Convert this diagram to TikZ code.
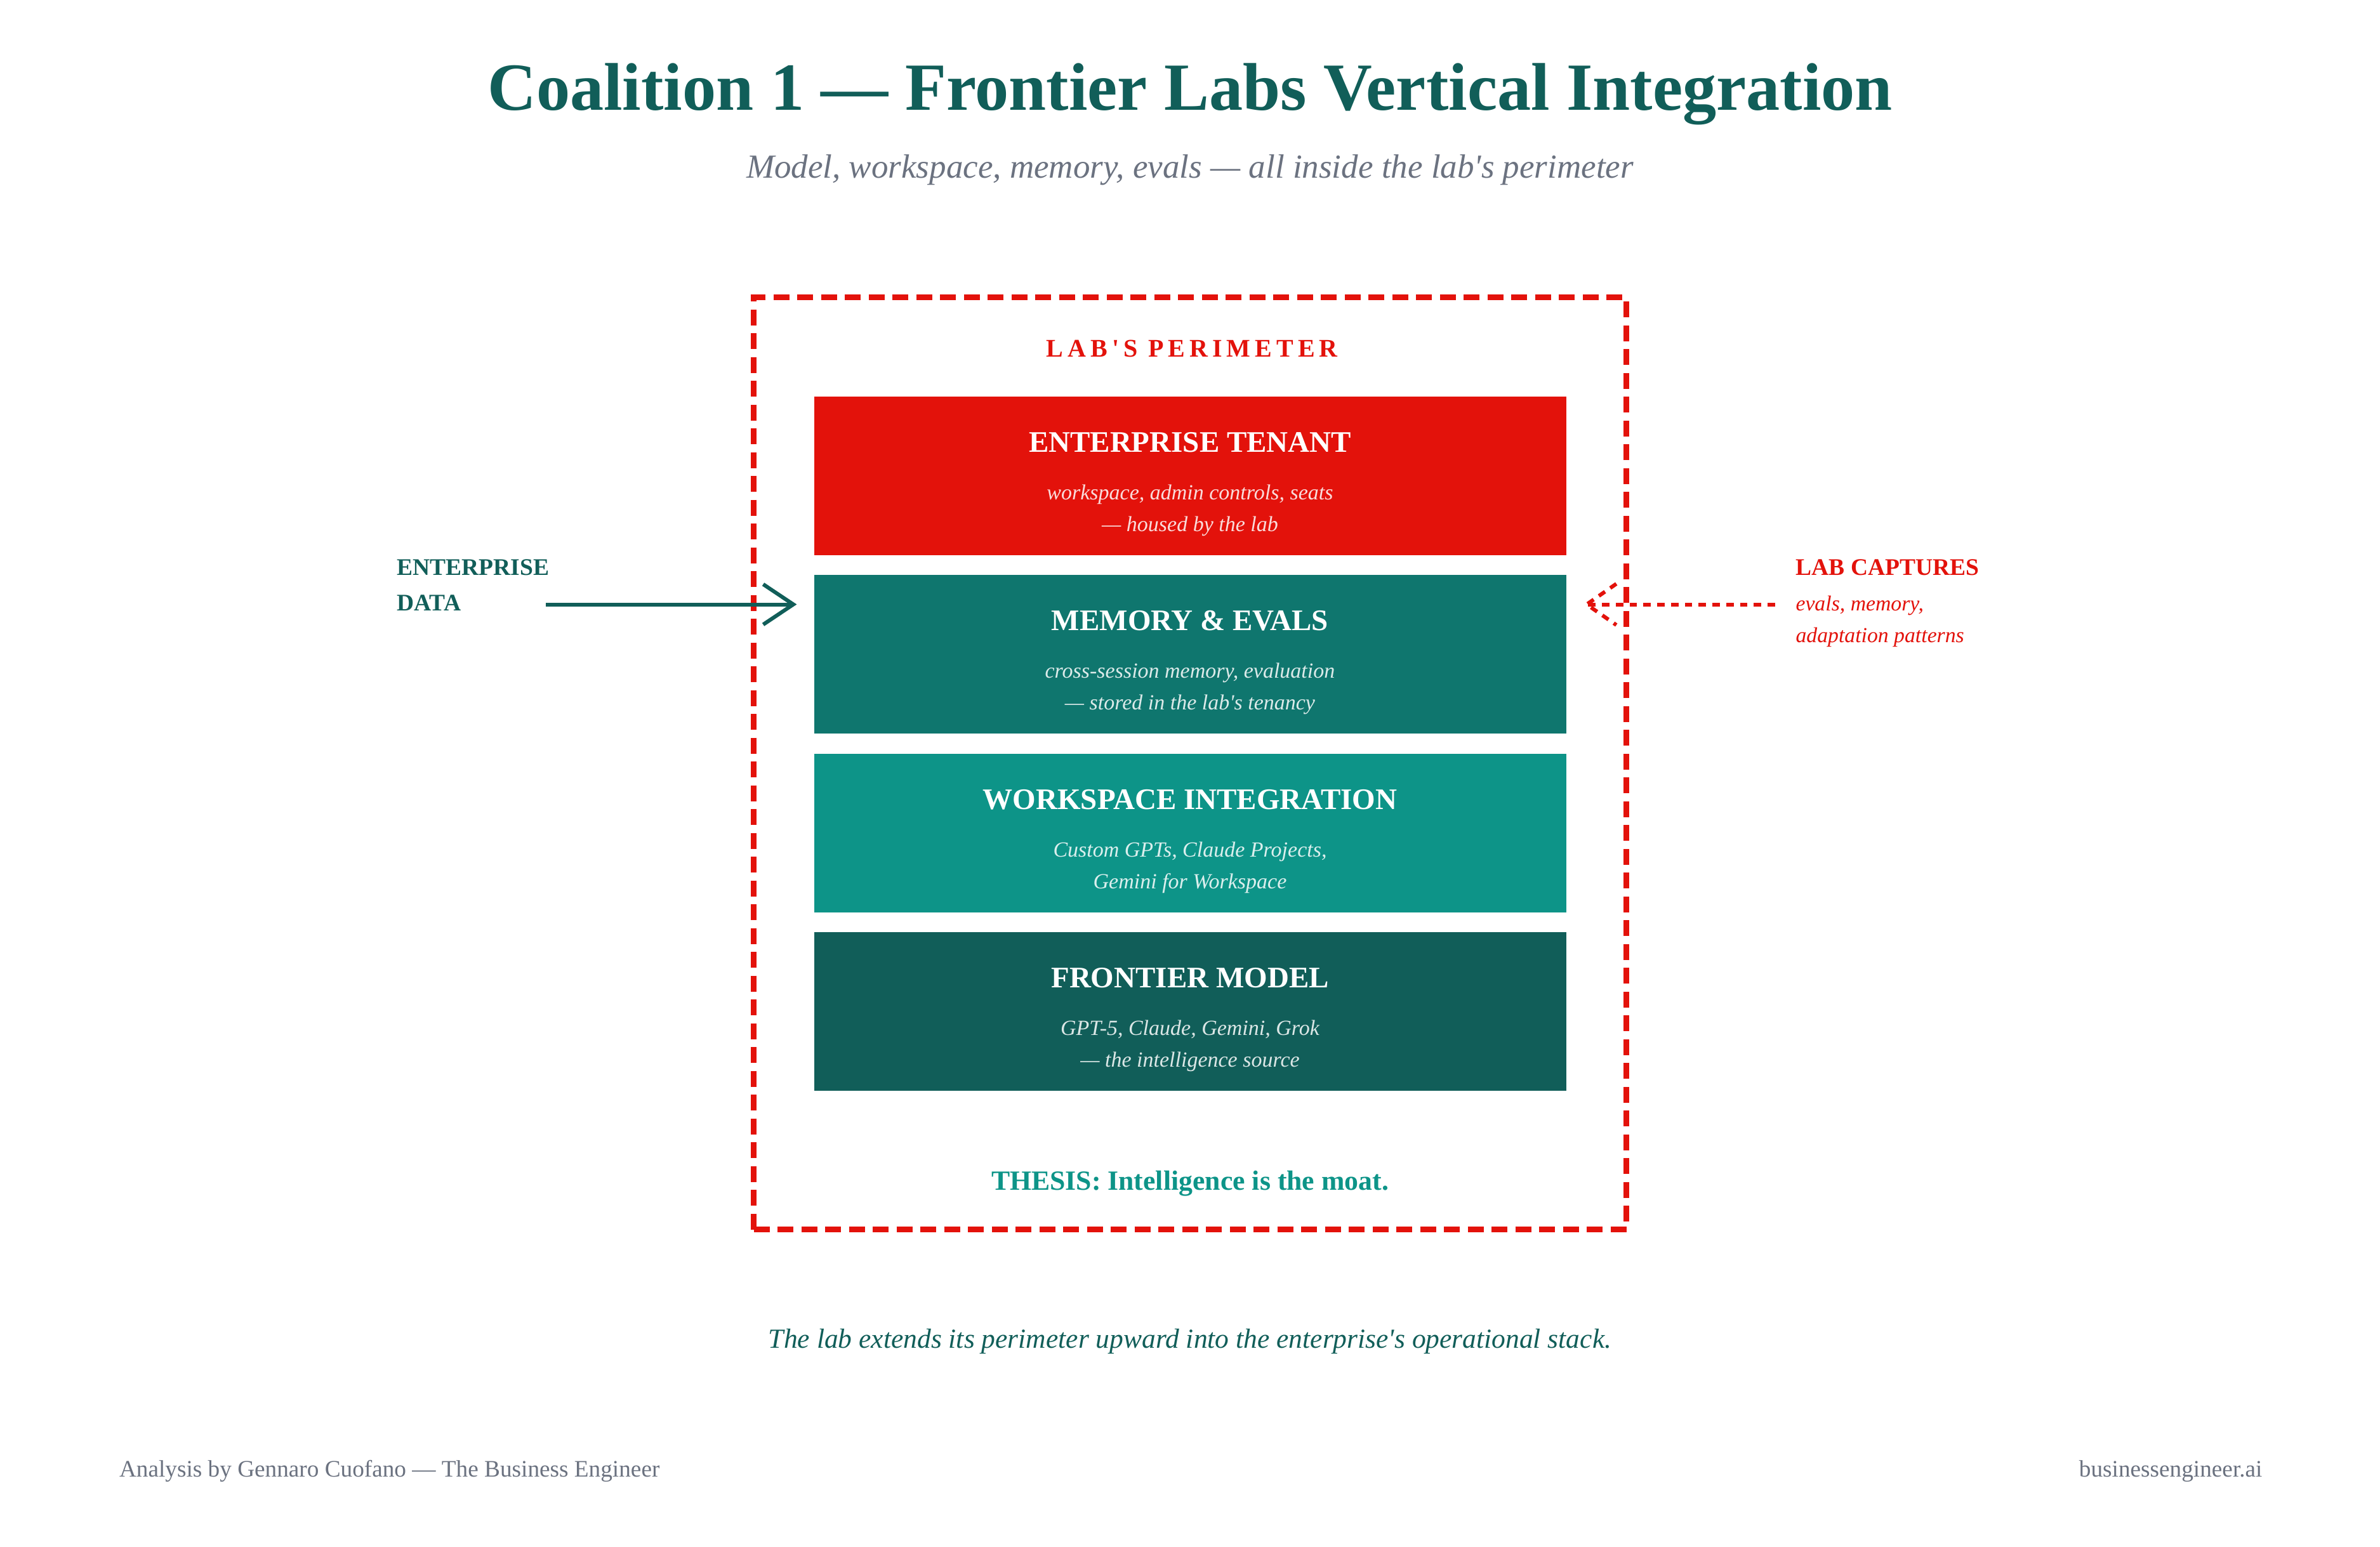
\documentclass[tikz,border=0pt]{standalone}
\usepackage{fontspec}
\setmainfont{Liberation Serif}[Ligatures=TeXOff]
\definecolor{brandred}{HTML}{E3120B}
\definecolor{tealdark}{HTML}{115E59}
\definecolor{tealmid}{HTML}{0F766E}
\definecolor{teallight}{HTML}{0D9488}
\definecolor{graytext}{HTML}{6B7280}
\newcommand\setfs[1]{\fontsize{#1}{#1}\selectfont}
\tikzset{
  layer/.style={minimum width=474pt, minimum height=100pt, inner sep=0pt, outer sep=0pt, draw=none},
  ltitle/.style={anchor=base, text=white, font=\bfseries\setfs{18.8}, inner sep=0pt},
  lsub/.style={anchor=base, text=white, text opacity=0.85, font=\itshape\setfs{13.6}, inner sep=0pt},
  txt/.style={inner sep=0pt},
}
\begin{document}
\begin{tikzpicture}[x=1pt,y=-1pt]
\fill[white] (0,0) rectangle (1500,975);
\useasboundingbox (0,0) rectangle (1500,975);

% title
\node[txt, anchor=base, text=tealdark, font=\bfseries\setfs{42.5}] (title) at (750,69.2) {Coalition 1 — Frontier Labs Vertical Integration};
\node[txt, anchor=base, text=graytext, font=\itshape\setfs{21.2}] (subtitle) at (750,112) {Model, workspace, memory, evals — all inside the lab's perimeter};

% perimeter
\node[draw=brandred, line width=3.5pt, dash pattern=on 10pt off 5pt, minimum width=550pt, minimum height=587.5pt, inner sep=0pt, outer sep=0pt] (perim) at (750,481.25) {};
\node[txt, anchor=base, text=brandred, font=\bfseries\setfs{16}\addfontfeatures{LetterSpace=17.5}] (plabel) at (751.3,225) {LAB'S PERIMETER};

% layers
\node[layer, fill=brandred] (et) at (750,300) {};
\node[layer, fill=tealmid] (me) at (750,412.5) {};
\node[layer, fill=teallight] (wi) at (750,525) {};
\node[layer, fill=tealdark] (fm) at (750,637.5) {};

\node[ltitle] (ett) at ([yshift=-35pt]et.north) {ENTERPRISE TENANT};
\node[lsub] (ets1) at ([yshift=-65pt]et.north) {workspace, admin controls, seats};
\node[lsub] (ets2) at ([yshift=-85pt]et.north) {— housed by the lab};

\node[ltitle] (met) at ([yshift=-35pt]me.north) {MEMORY \& EVALS};
\node[lsub] (mes1) at ([yshift=-65pt]me.north) {cross-session memory, evaluation};
\node[lsub] (mes2) at ([yshift=-85pt]me.north) {— stored in the lab's tenancy};

\node[ltitle] (wit) at ([yshift=-35pt]wi.north) {WORKSPACE INTEGRATION};
\node[lsub] (wis1) at ([yshift=-65pt]wi.north) {Custom GPTs, Claude Projects,};
\node[lsub] (wis2) at ([yshift=-85pt]wi.north) {Gemini for Workspace};

\node[ltitle] (fmt) at ([yshift=-35pt]fm.north) {FRONTIER MODEL};
\node[lsub] (fms1) at ([yshift=-65pt]fm.north) {GPT-5, Claude, Gemini, Grok};
\node[lsub] (fms2) at ([yshift=-85pt]fm.north) {— the intelligence source};

\node[txt, anchor=base, text=teallight, font=\bfseries\setfs{17.5}] (thesis) at (750,750) {THESIS: Intelligence is the moat.};

% left label and arrow
\node[txt, anchor=base west, text=tealdark, font=\bfseries\setfs{15}] (ed1) at (250,362.4) {ENTERPRISE};
\node[txt, anchor=base west, text=tealdark, font=\bfseries\setfs{15}] (ed2) at (250,384.8) {DATA};
\coordinate (edin) at (344,381);
\coordinate (edtip) at ([xshift=-13pt,yshift=-18.5pt]me.north west);
\draw[tealdark, line width=2.4pt] (edin) -- (edtip);
\draw[tealdark, line width=2.4pt, miter limit=10] ([xshift=-19pt,yshift=12.7pt]edtip) -- (edtip) -- ([xshift=-19pt,yshift=-12.7pt]edtip);

% right label and arrow
\node[txt, anchor=base west, text=brandred, font=\bfseries\setfs{15}] (lc1) at (1131.6,362.4) {LAB CAPTURES};
\node[txt, anchor=base west, text=brandred, font=\itshape\setfs{13.5}] (lc2) at (1131.6,384.8) {evals, memory,};
\node[txt, anchor=base west, text=brandred, font=\itshape\setfs{13.5}] (lc3) at (1131.6,404.8) {adaptation patterns};
\coordinate (lcin) at (1118.7,381);
\coordinate (lctip) at ([xshift=13pt,yshift=-18.5pt]me.north east);
\draw[brandred, line width=2.4pt, dash pattern=on 4.7pt off 4pt] (lcin) -- (lctip);
\draw[brandred, line width=2.4pt, dash pattern=on 4.7pt off 4pt, miter limit=10] ([xshift=18.7pt,yshift=13pt]lctip) -- (lctip) -- ([xshift=18.7pt,yshift=-13pt]lctip);

% caption and footer
\node[txt, anchor=base, text=tealdark, font=\itshape\setfs{17.4}] (caption) at (750,849.6) {The lab extends its perimeter upward into the enterprise's operational stack.};
\node[txt, anchor=base west, text=graytext, font=\setfs{14.9}] (footl) at (75,931) {Analysis by Gennaro Cuofano — The Business Engineer};
\node[txt, anchor=base east, text=graytext, font=\setfs{14.9}] (footr) at (1426,931) {businessengineer.ai};
\end{tikzpicture}
\end{document}
